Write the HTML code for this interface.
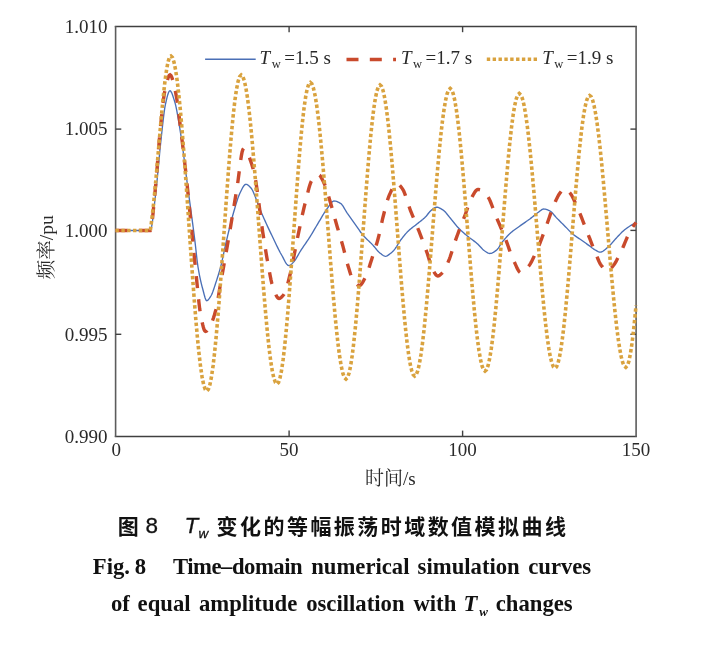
<!DOCTYPE html>
<html><head><meta charset="utf-8"><title>Fig. 8</title>
<style>html,body{margin:0;padding:0;background:#fff;}svg{display:block;}</style>
</head><body>
<svg width="705" height="647" viewBox="0 0 705 647">
<rect width="705" height="647" fill="#fff"/>
<line x1="114.8" y1="26.6" x2="636.9" y2="26.6" stroke="#404040" stroke-width="1.5"/>
<line x1="114.8" y1="436.4" x2="636.9" y2="436.4" stroke="#404040" stroke-width="1.5"/>
<line x1="115.6" y1="26" x2="115.6" y2="437" stroke="#5c5c5c" stroke-width="1.6"/>
<line x1="636.1" y1="26" x2="636.1" y2="437" stroke="#5c5c5c" stroke-width="1.6"/>
<line x1="115.6" y1="129.1" x2="121.3" y2="129.1" stroke="#404040" stroke-width="1.4"/>
<line x1="636.1" y1="129.1" x2="630.4" y2="129.1" stroke="#404040" stroke-width="1.4"/>
<line x1="115.6" y1="230.4" x2="121.3" y2="230.4" stroke="#404040" stroke-width="1.4"/>
<line x1="636.1" y1="230.4" x2="630.4" y2="230.4" stroke="#404040" stroke-width="1.4"/>
<line x1="115.6" y1="334.3" x2="121.3" y2="334.3" stroke="#404040" stroke-width="1.4"/>
<line x1="636.1" y1="334.3" x2="630.4" y2="334.3" stroke="#404040" stroke-width="1.4"/>
<line x1="289.1" y1="436.4" x2="289.1" y2="430.6" stroke="#404040" stroke-width="1.4"/>
<line x1="289.1" y1="26.6" x2="289.1" y2="32.2" stroke="#404040" stroke-width="1.4"/>
<line x1="462.6" y1="436.4" x2="462.6" y2="430.6" stroke="#404040" stroke-width="1.4"/>
<line x1="462.6" y1="26.6" x2="462.6" y2="32.2" stroke="#404040" stroke-width="1.4"/>
<path d="M115.50,230.50 L116.21,230.50 L116.92,230.50 L117.63,230.50 L118.34,230.50 L119.05,230.50 L119.76,230.50 L120.47,230.50 L121.18,230.50 L121.89,230.50 L122.60,230.50 L123.31,230.50 L124.02,230.50 L124.73,230.50 L125.44,230.50 L126.15,230.50 L126.86,230.50 L127.57,230.50 L128.28,230.50 L128.99,230.50 L129.70,230.50 L130.41,230.50 L131.12,230.50 L131.83,230.50 L132.54,230.50 L133.26,230.50 L133.97,230.50 L134.68,230.50 L135.39,230.50 L136.10,230.50 L136.81,230.50 L137.52,230.50 L138.23,230.50 L138.94,230.50 L139.65,230.50 L140.36,230.50 L141.07,230.50 L141.78,230.50 L142.49,230.50 L143.20,230.50 L143.91,230.50 L144.62,230.50 L145.33,230.50 L146.04,230.50 L146.75,230.50 L147.46,230.50 L148.17,230.50 L148.88,230.50 L149.59,230.50 L150.30,230.50 L151.01,229.34 L151.73,226.19 L152.44,221.50 L153.16,215.77 L153.87,209.46 L154.59,203.04 L155.30,197.00 L156.04,190.67 L156.78,183.59 L157.51,175.99 L158.25,168.09 L158.99,160.12 L159.72,152.29 L160.46,144.85 L161.20,138.00 L161.92,131.55 L162.63,124.99 L163.35,118.64 L164.07,112.81 L164.78,107.83 L165.50,104.00 L166.23,100.78 L166.97,97.70 L167.70,94.94 L168.43,92.72 L169.17,91.24 L169.90,90.70 L170.67,91.13 L171.43,92.32 L172.20,94.07 L172.97,96.22 L173.73,98.59 L174.50,101.00 L175.26,103.68 L176.03,106.94 L176.79,110.69 L177.55,114.83 L178.31,119.27 L179.07,123.90 L179.84,128.65 L180.60,133.40 L181.31,137.98 L182.02,142.88 L182.73,148.04 L183.44,153.41 L184.15,158.93 L184.86,164.55 L185.57,170.20 L186.28,175.83 L186.99,181.38 L187.70,186.80 L188.41,192.10 L189.12,197.36 L189.83,202.58 L190.54,207.80 L191.25,213.03 L191.96,218.29 L192.67,223.61 L193.38,229.00 L194.09,234.49 L194.80,240.10 L195.60,246.98 L196.40,254.30 L197.20,261.25 L198.00,267.00 L198.80,271.65 L199.60,275.85 L200.40,279.67 L201.20,283.16 L202.00,286.35 L202.80,289.30 L203.58,292.26 L204.36,295.31 L205.14,298.02 L205.92,299.96 L206.70,300.70 L207.40,300.50 L208.10,299.97 L208.80,299.17 L209.50,298.19 L210.20,297.11 L210.90,296.00 L211.60,294.72 L212.30,293.11 L213.00,291.26 L213.70,289.23 L214.40,287.09 L215.10,284.92 L215.80,282.80 L216.62,280.35 L217.43,277.83 L218.25,275.22 L219.07,272.49 L219.88,269.63 L220.70,266.60 L221.50,263.35 L222.30,259.80 L223.10,256.07 L223.90,252.27 L224.70,248.54 L225.50,245.00 L226.21,241.98 L226.92,238.96 L227.62,235.95 L228.33,232.96 L229.04,230.01 L229.75,227.09 L230.46,224.22 L231.17,221.42 L231.88,218.68 L232.58,216.03 L233.29,213.46 L234.00,211.00 L234.75,208.44 L235.50,205.87 L236.25,203.36 L237.00,200.93 L237.75,198.64 L238.50,196.52 L239.25,194.63 L240.00,193.00 L240.74,191.51 L241.47,190.00 L242.21,188.54 L242.95,187.19 L243.69,186.03 L244.43,185.11 L245.16,184.51 L245.90,184.30 L246.63,184.41 L247.36,184.71 L248.09,185.18 L248.81,185.77 L249.54,186.46 L250.27,187.22 L251.00,188.00 L251.73,188.97 L252.46,190.25 L253.19,191.78 L253.91,193.48 L254.64,195.28 L255.37,197.11 L256.10,198.90 L256.95,201.07 L257.80,203.41 L258.65,205.77 L259.50,208.00 L260.22,209.78 L260.94,211.52 L261.67,213.23 L262.39,214.91 L263.11,216.56 L263.83,218.19 L264.56,219.80 L265.28,221.40 L266.00,223.00 L266.71,224.56 L267.42,226.10 L268.13,227.62 L268.84,229.14 L269.55,230.63 L270.26,232.12 L270.97,233.60 L271.68,235.07 L272.39,236.54 L273.10,238.00 L273.81,239.47 L274.52,240.95 L275.23,242.45 L275.93,243.94 L276.64,245.43 L277.35,246.90 L278.06,248.36 L278.77,249.78 L279.48,251.16 L280.18,252.50 L280.89,253.78 L281.60,255.00 L282.33,256.29 L283.06,257.67 L283.79,259.09 L284.52,260.49 L285.25,261.83 L285.98,263.04 L286.71,264.08 L287.44,264.89 L288.17,265.41 L288.90,265.60 L289.63,265.47 L290.36,265.10 L291.09,264.55 L291.81,263.87 L292.54,263.10 L293.27,262.29 L294.00,261.50 L294.73,260.63 L295.47,259.60 L296.20,258.45 L296.93,257.21 L297.67,255.90 L298.40,254.58 L299.13,253.26 L299.87,251.99 L300.60,250.80 L301.32,249.69 L302.05,248.59 L302.77,247.52 L303.49,246.45 L304.22,245.40 L304.94,244.35 L305.66,243.30 L306.38,242.25 L307.11,241.19 L307.83,240.12 L308.55,239.03 L309.28,237.93 L310.00,236.80 L310.72,235.66 L311.43,234.49 L312.15,233.31 L312.86,232.11 L313.58,230.90 L314.29,229.68 L315.01,228.46 L315.72,227.23 L316.44,226.01 L317.15,224.79 L317.87,223.58 L318.58,222.38 L319.30,221.20 L320.01,220.03 L320.72,218.83 L321.43,217.62 L322.14,216.42 L322.85,215.21 L323.55,214.03 L324.26,212.87 L324.97,211.75 L325.68,210.68 L326.39,209.66 L327.10,208.70 L327.80,207.75 L328.50,206.73 L329.20,205.70 L329.90,204.68 L330.60,203.71 L331.30,202.84 L332.00,202.09 L332.70,201.51 L333.40,201.13 L334.10,201.00 L334.89,201.05 L335.68,201.19 L336.46,201.41 L337.25,201.70 L338.04,202.04 L338.82,202.43 L339.61,202.85 L340.40,203.30 L341.10,203.82 L341.80,204.55 L342.50,205.45 L343.20,206.48 L343.90,207.61 L344.60,208.80 L345.30,210.01 L346.00,211.21 L346.70,212.35 L347.40,213.40 L348.11,214.40 L348.82,215.40 L349.53,216.40 L350.24,217.39 L350.95,218.38 L351.65,219.37 L352.36,220.35 L353.07,221.34 L353.78,222.32 L354.49,223.31 L355.20,224.30 L355.91,225.30 L356.62,226.33 L357.33,227.37 L358.04,228.41 L358.75,229.45 L359.45,230.48 L360.16,231.50 L360.87,232.48 L361.58,233.43 L362.29,234.34 L363.00,235.20 L363.72,236.03 L364.45,236.81 L365.17,237.57 L365.89,238.30 L366.62,239.01 L367.34,239.70 L368.06,240.38 L368.78,241.06 L369.51,241.74 L370.23,242.43 L370.95,243.13 L371.68,243.85 L372.40,244.60 L373.11,245.37 L373.82,246.19 L374.53,247.04 L375.24,247.90 L375.95,248.77 L376.65,249.63 L377.36,250.45 L378.07,251.24 L378.78,251.97 L379.49,252.63 L380.20,253.20 L380.97,253.79 L381.74,254.40 L382.51,254.98 L383.29,255.50 L384.06,255.92 L384.83,256.20 L385.60,256.30 L386.33,256.19 L387.07,255.88 L387.80,255.44 L388.53,254.91 L389.27,254.35 L390.00,253.80 L390.73,253.24 L391.47,252.62 L392.20,251.94 L392.93,251.21 L393.67,250.43 L394.40,249.60 L395.17,248.62 L395.95,247.51 L396.73,246.31 L397.50,245.04 L398.27,243.76 L399.05,242.50 L399.83,241.30 L400.60,240.20 L401.31,239.25 L402.02,238.32 L402.73,237.40 L403.44,236.50 L404.15,235.61 L404.85,234.75 L405.56,233.92 L406.27,233.12 L406.98,232.34 L407.69,231.60 L408.40,230.90 L409.11,230.24 L409.82,229.61 L410.53,229.01 L411.24,228.44 L411.95,227.88 L412.65,227.34 L413.36,226.80 L414.07,226.26 L414.78,225.72 L415.49,225.17 L416.20,224.60 L416.92,224.02 L417.65,223.44 L418.37,222.87 L419.09,222.31 L419.82,221.75 L420.54,221.18 L421.26,220.61 L421.98,220.02 L422.71,219.42 L423.43,218.80 L424.15,218.16 L424.88,217.50 L425.60,216.80 L426.37,215.97 L427.14,215.03 L427.91,214.03 L428.69,213.02 L429.46,212.06 L430.23,211.21 L431.00,210.50 L431.79,209.86 L432.57,209.21 L433.36,208.59 L434.14,208.04 L434.93,207.60 L435.71,207.31 L436.50,207.20 L437.27,207.26 L438.05,207.43 L438.82,207.70 L439.60,208.04 L440.38,208.43 L441.15,208.87 L441.93,209.33 L442.70,209.80 L443.41,210.28 L444.12,210.87 L444.83,211.56 L445.54,212.31 L446.25,213.13 L446.95,214.00 L447.66,214.88 L448.37,215.79 L449.08,216.68 L449.79,217.56 L450.50,218.40 L451.21,219.23 L451.92,220.09 L452.63,220.97 L453.34,221.87 L454.05,222.76 L454.75,223.66 L455.46,224.54 L456.17,225.40 L456.88,226.24 L457.59,227.04 L458.30,227.80 L459.02,228.54 L459.75,229.26 L460.47,229.96 L461.19,230.65 L461.92,231.32 L462.64,231.97 L463.36,232.62 L464.08,233.25 L464.81,233.87 L465.53,234.49 L466.25,235.10 L466.98,235.70 L467.70,236.30 L468.42,236.88 L469.13,237.44 L469.85,237.98 L470.56,238.51 L471.28,239.04 L471.99,239.55 L472.71,240.07 L473.42,240.59 L474.14,241.12 L474.85,241.66 L475.57,242.22 L476.28,242.80 L477.00,243.40 L477.71,244.04 L478.42,244.74 L479.13,245.48 L479.84,246.25 L480.55,247.02 L481.25,247.79 L481.96,248.54 L482.67,249.25 L483.38,249.91 L484.09,250.49 L484.80,251.00 L485.51,251.48 L486.23,251.97 L486.94,252.44 L487.66,252.85 L488.37,253.19 L489.09,253.42 L489.80,253.50 L490.51,253.44 L491.22,253.28 L491.93,253.04 L492.64,252.71 L493.36,252.32 L494.07,251.88 L494.78,251.41 L495.49,250.91 L496.20,250.40 L496.90,249.79 L497.60,249.00 L498.30,248.07 L499.00,247.04 L499.70,245.95 L500.40,244.84 L501.10,243.75 L501.80,242.72 L502.50,241.80 L503.21,240.93 L503.92,240.08 L504.63,239.23 L505.34,238.40 L506.05,237.58 L506.75,236.79 L507.46,236.01 L508.17,235.27 L508.88,234.55 L509.59,233.86 L510.30,233.20 L511.02,232.57 L511.73,231.97 L512.45,231.39 L513.16,230.83 L513.88,230.29 L514.59,229.76 L515.31,229.25 L516.02,228.74 L516.74,228.23 L517.45,227.73 L518.17,227.23 L518.88,226.72 L519.60,226.20 L520.33,225.67 L521.07,225.14 L521.80,224.62 L522.53,224.11 L523.27,223.60 L524.00,223.09 L524.73,222.58 L525.47,222.07 L526.20,221.56 L526.93,221.05 L527.67,220.54 L528.40,220.01 L529.13,219.48 L529.87,218.95 L530.60,218.40 L531.31,217.85 L532.02,217.29 L532.73,216.71 L533.44,216.11 L534.15,215.52 L534.85,214.93 L535.56,214.34 L536.27,213.77 L536.98,213.22 L537.69,212.69 L538.40,212.20 L539.17,211.64 L539.94,211.04 L540.71,210.43 L541.49,209.88 L542.26,209.42 L543.03,209.11 L543.80,209.00 L544.59,209.05 L545.37,209.18 L546.16,209.38 L546.94,209.63 L547.73,209.93 L548.51,210.26 L549.30,210.60 L550.01,210.98 L550.72,211.48 L551.43,212.09 L552.14,212.79 L552.85,213.55 L553.55,214.36 L554.26,215.19 L554.97,216.04 L555.68,216.86 L556.39,217.66 L557.10,218.40 L557.81,219.11 L558.52,219.82 L559.23,220.53 L559.94,221.24 L560.65,221.95 L561.35,222.65 L562.06,223.36 L562.77,224.07 L563.48,224.78 L564.19,225.49 L564.90,226.20 L565.61,226.92 L566.32,227.65 L567.03,228.40 L567.74,229.15 L568.45,229.90 L569.15,230.64 L569.86,231.36 L570.57,232.07 L571.28,232.75 L571.99,233.39 L572.70,234.00 L573.42,234.58 L574.13,235.13 L574.85,235.66 L575.56,236.17 L576.28,236.66 L576.99,237.15 L577.71,237.62 L578.42,238.09 L579.14,238.56 L579.85,239.04 L580.57,239.51 L581.28,240.00 L582.00,240.50 L582.71,241.01 L583.42,241.52 L584.13,242.03 L584.84,242.54 L585.56,243.05 L586.27,243.57 L586.98,244.08 L587.69,244.59 L588.40,245.10 L589.17,245.66 L589.93,246.24 L590.70,246.83 L591.47,247.42 L592.23,248.00 L593.00,248.56 L593.77,249.08 L594.53,249.57 L595.30,250.00 L596.00,250.39 L596.70,250.79 L597.40,251.19 L598.10,251.54 L598.80,251.83 L599.50,252.03 L600.20,252.10 L600.97,252.02 L601.74,251.79 L602.51,251.43 L603.28,250.97 L604.05,250.42 L604.82,249.81 L605.59,249.16 L606.36,248.50 L607.13,247.84 L607.90,247.20 L608.65,246.56 L609.41,245.84 L610.16,245.07 L610.92,244.24 L611.67,243.39 L612.43,242.51 L613.18,241.62 L613.94,240.73 L614.69,239.86 L615.45,239.01 L616.20,238.20 L616.96,237.40 L617.73,236.59 L618.49,235.77 L619.25,234.96 L620.02,234.15 L620.78,233.36 L621.55,232.59 L622.31,231.84 L623.07,231.12 L623.84,230.44 L624.60,229.80 L625.31,229.24 L626.02,228.70 L626.74,228.18 L627.45,227.67 L628.16,227.19 L628.88,226.71 L629.59,226.25 L630.30,225.80 L631.01,225.35 L631.73,224.91 L632.44,224.47 L633.15,224.02 L633.86,223.58 L634.58,223.13 L635.29,222.67 L636.00,222.20" fill="none" stroke="#4A6FB6" stroke-width="1.35" stroke-linejoin="round"/>
<path d="M115.50,230.50 L116.21,230.50 L116.92,230.50 L117.63,230.50 L118.34,230.50 L119.05,230.50 L119.76,230.50 L120.47,230.50 L121.18,230.50 L121.89,230.50 L122.60,230.50 L123.31,230.50 L124.02,230.50 L124.73,230.50 L125.44,230.50 L126.15,230.50 L126.86,230.50 L127.57,230.50 L128.28,230.50 L128.99,230.50 L129.70,230.50 L130.41,230.50 L131.12,230.50 L131.83,230.50 L132.54,230.50 L133.26,230.50 L133.97,230.50 L134.68,230.50 L135.39,230.50 L136.10,230.50 L136.81,230.50 L137.52,230.50 L138.23,230.50 L138.94,230.50 L139.65,230.50 L140.36,230.50 L141.07,230.50 L141.78,230.50 L142.49,230.50 L143.20,230.50 L143.91,230.50 L144.62,230.50 L145.33,230.50 L146.04,230.50 L146.75,230.50 L147.46,230.50 L148.17,230.50 L148.88,230.50 L149.59,230.50 L150.30,230.50 L151.12,228.60 L151.93,223.53 L152.75,216.21 L153.57,207.56 L154.38,198.52 L155.20,190.00 L155.96,182.00 L156.71,172.98 L157.47,163.37 L158.23,153.56 L158.99,143.96 L159.74,134.97 L160.50,127.00 L161.25,119.68 L162.00,112.43 L162.75,105.54 L163.50,99.31 L164.25,94.03 L165.00,90.00 L165.73,86.79 L166.46,83.70 L167.19,80.86 L167.91,78.42 L168.64,76.50 L169.37,75.25 L170.10,74.80 L170.87,75.34 L171.64,76.82 L172.41,79.08 L173.19,81.91 L173.96,85.13 L174.73,88.55 L175.50,92.00 L176.26,95.82 L177.03,100.46 L177.79,105.76 L178.55,111.56 L179.31,117.69 L180.07,124.00 L180.84,130.32 L181.60,136.50 L182.30,142.13 L183.00,147.91 L183.70,153.83 L184.40,159.89 L185.10,166.07 L185.80,172.38 L186.50,178.80 L187.20,185.41 L187.90,192.24 L188.60,199.23 L189.30,206.33 L190.00,213.46 L190.70,220.57 L191.40,227.60 L192.10,234.61 L192.80,241.67 L193.50,248.74 L194.20,255.79 L194.90,262.76 L195.60,269.61 L196.30,276.30 L197.14,284.60 L197.98,293.21 L198.82,301.44 L199.66,308.60 L200.50,314.00 L201.21,317.65 L201.93,321.19 L202.64,324.46 L203.36,327.29 L204.07,329.52 L204.79,330.98 L205.50,331.50 L206.21,331.30 L206.93,330.73 L207.64,329.87 L208.36,328.80 L209.07,327.58 L209.79,326.29 L210.50,325.00 L211.26,323.53 L212.01,321.82 L212.77,319.87 L213.53,317.71 L214.29,315.33 L215.04,312.76 L215.80,310.00 L216.62,306.48 L217.43,302.24 L218.25,297.51 L219.07,292.54 L219.88,287.55 L220.70,282.80 L221.44,278.70 L222.17,274.61 L222.91,270.52 L223.65,266.43 L224.38,262.34 L225.12,258.23 L225.85,254.10 L226.59,249.95 L227.33,245.77 L228.06,241.56 L228.80,237.30 L229.54,232.99 L230.27,228.63 L231.01,224.22 L231.75,219.79 L232.48,215.32 L233.22,210.84 L233.95,206.36 L234.69,201.87 L235.43,197.39 L236.16,192.93 L236.90,188.50 L237.64,183.60 L238.39,178.05 L239.13,172.18 L239.88,166.31 L240.62,160.77 L241.37,155.89 L242.11,152.00 L242.86,149.43 L243.60,148.50 L244.34,148.68 L245.08,149.19 L245.82,150.01 L246.55,151.11 L247.29,152.46 L248.03,154.04 L248.77,155.81 L249.51,157.75 L250.25,159.83 L250.98,162.02 L251.72,164.30 L252.46,166.64 L253.20,169.00 L253.94,171.72 L254.67,175.11 L255.41,179.08 L256.14,183.55 L256.88,188.44 L257.61,193.65 L258.35,199.10 L259.09,204.72 L259.82,210.41 L260.56,216.09 L261.29,221.67 L262.03,227.07 L262.76,232.21 L263.50,237.00 L264.25,241.68 L265.00,246.35 L265.75,250.96 L266.50,255.45 L267.25,259.78 L268.00,263.90 L268.77,268.07 L269.53,272.29 L270.30,276.38 L271.07,280.15 L271.83,283.42 L272.60,286.00 L273.31,288.03 L274.02,290.02 L274.73,291.94 L275.44,293.71 L276.16,295.28 L276.87,296.61 L277.58,297.62 L278.29,298.27 L279.00,298.50 L279.80,298.35 L280.60,297.92 L281.40,297.27 L282.20,296.45 L283.00,295.51 L283.80,294.50 L284.51,293.35 L285.22,291.76 L285.93,289.80 L286.64,287.54 L287.36,285.04 L288.07,282.37 L288.78,279.60 L289.49,276.78 L290.20,274.00 L290.93,271.02 L291.66,267.75 L292.39,264.25 L293.12,260.58 L293.85,256.79 L294.58,252.94 L295.31,249.08 L296.04,245.27 L296.77,241.55 L297.50,238.00 L298.21,234.62 L298.92,231.22 L299.63,227.81 L300.34,224.42 L301.05,221.05 L301.75,217.73 L302.46,214.48 L303.17,211.31 L303.88,208.25 L304.59,205.31 L305.30,202.50 L306.04,199.57 L306.79,196.55 L307.53,193.53 L308.28,190.59 L309.02,187.82 L309.77,185.29 L310.51,183.09 L311.26,181.30 L312.00,180.00 L312.70,179.05 L313.40,178.14 L314.10,177.29 L314.80,176.52 L315.50,175.84 L316.20,175.28 L316.90,174.86 L317.60,174.59 L318.30,174.50 L319.01,174.71 L319.73,175.30 L320.44,176.19 L321.15,177.33 L321.86,178.65 L322.57,180.08 L323.29,181.55 L324.00,183.00 L324.77,184.70 L325.55,186.70 L326.32,188.94 L327.10,191.35 L327.88,193.89 L328.65,196.50 L329.43,199.12 L330.20,201.70 L330.90,204.05 L331.60,206.48 L332.30,208.99 L333.00,211.54 L333.70,214.12 L334.40,216.71 L335.10,219.28 L335.80,221.82 L336.50,224.30 L337.27,226.97 L338.05,229.59 L338.82,232.18 L339.60,234.76 L340.38,237.35 L341.15,239.98 L341.93,242.65 L342.70,245.40 L343.49,248.33 L344.27,251.41 L345.06,254.57 L345.84,257.72 L346.63,260.79 L347.41,263.71 L348.20,266.40 L349.00,269.06 L349.80,271.76 L350.60,274.34 L351.40,276.67 L352.20,278.61 L353.00,280.00 L353.72,280.95 L354.44,281.86 L355.17,282.72 L355.89,283.49 L356.61,284.16 L357.33,284.72 L358.06,285.14 L358.78,285.41 L359.50,285.50 L360.29,285.26 L361.07,284.59 L361.86,283.59 L362.64,282.34 L363.43,280.94 L364.21,279.46 L365.00,278.00 L365.74,276.53 L366.48,274.83 L367.22,272.94 L367.96,270.88 L368.70,268.69 L369.44,266.41 L370.18,264.08 L370.92,261.72 L371.66,259.39 L372.40,257.10 L373.17,254.75 L373.95,252.38 L374.73,249.98 L375.50,247.53 L376.27,245.01 L377.05,242.39 L377.83,239.66 L378.60,236.80 L379.38,233.62 L380.17,230.12 L380.95,226.46 L381.73,222.78 L382.52,219.24 L383.30,216.00 L384.07,212.96 L384.85,209.90 L385.62,206.90 L386.40,204.00 L387.18,201.27 L387.95,198.77 L388.73,196.56 L389.50,194.70 L390.23,193.12 L390.96,191.53 L391.69,189.98 L392.42,188.50 L393.15,187.14 L393.88,185.94 L394.61,184.93 L395.34,184.16 L396.07,183.67 L396.80,183.50 L397.59,183.65 L398.37,184.08 L399.16,184.74 L399.94,185.57 L400.73,186.52 L401.51,187.55 L402.30,188.60 L403.05,189.79 L403.81,191.31 L404.56,193.11 L405.32,195.12 L406.07,197.31 L406.83,199.60 L407.58,201.95 L408.34,204.30 L409.09,206.59 L409.85,208.78 L410.60,210.80 L411.36,212.72 L412.13,214.60 L412.89,216.45 L413.65,218.28 L414.42,220.09 L415.18,221.90 L415.95,223.71 L416.71,225.54 L417.47,227.39 L418.24,229.28 L419.00,231.20 L419.75,233.13 L420.51,235.07 L421.26,237.03 L422.02,239.00 L422.77,240.99 L423.53,243.01 L424.28,245.05 L425.04,247.11 L425.79,249.21 L426.55,251.34 L427.30,253.50 L428.08,255.94 L428.87,258.60 L429.65,261.31 L430.43,263.90 L431.22,266.19 L432.00,268.00 L432.73,269.42 L433.45,270.83 L434.18,272.17 L434.90,273.40 L435.62,274.45 L436.35,275.28 L437.07,275.81 L437.80,276.00 L438.54,275.88 L439.29,275.54 L440.03,275.03 L440.77,274.38 L441.51,273.63 L442.26,272.82 L443.00,272.00 L443.70,271.11 L444.40,270.02 L445.10,268.74 L445.80,267.33 L446.50,265.80 L447.20,264.20 L447.90,262.56 L448.60,260.90 L449.35,259.03 L450.10,256.99 L450.85,254.80 L451.60,252.52 L452.35,250.16 L453.10,247.77 L453.85,245.38 L454.60,243.03 L455.35,240.76 L456.10,238.60 L456.81,236.65 L457.52,234.73 L458.22,232.84 L458.93,230.98 L459.64,229.14 L460.35,227.32 L461.05,225.51 L461.76,223.70 L462.47,221.88 L463.18,220.06 L463.88,218.23 L464.59,216.38 L465.30,214.50 L466.01,212.52 L466.73,210.43 L467.44,208.28 L468.15,206.15 L468.86,204.09 L469.57,202.18 L470.29,200.46 L471.00,199.00 L471.70,197.70 L472.40,196.37 L473.10,195.06 L473.80,193.81 L474.50,192.65 L475.20,191.61 L475.90,190.74 L476.60,190.08 L477.30,189.65 L478.00,189.50 L478.71,189.54 L479.43,189.66 L480.14,189.84 L480.86,190.08 L481.57,190.36 L482.29,190.67 L483.00,191.00 L483.71,191.44 L484.43,192.05 L485.14,192.81 L485.86,193.70 L486.57,194.67 L487.29,195.72 L488.00,196.80 L488.72,198.01 L489.44,199.43 L490.15,201.02 L490.87,202.75 L491.59,204.59 L492.31,206.50 L493.03,208.45 L493.75,210.41 L494.46,212.34 L495.18,214.22 L495.90,216.00 L496.60,217.67 L497.30,219.33 L498.00,220.97 L498.70,222.61 L499.40,224.24 L500.10,225.87 L500.80,227.50 L501.50,229.15 L502.20,230.80 L502.90,232.47 L503.60,234.15 L504.30,235.86 L505.00,237.60 L505.75,239.53 L506.50,241.55 L507.25,243.64 L508.00,245.78 L508.75,247.93 L509.50,250.07 L510.25,252.18 L511.00,254.24 L511.75,256.21 L512.50,258.08 L513.25,259.82 L514.00,261.40 L514.70,262.85 L515.40,264.37 L516.10,265.92 L516.80,267.42 L517.50,268.85 L518.20,270.13 L518.90,271.22 L519.60,272.06 L520.30,272.61 L521.00,272.80 L521.70,272.71 L522.40,272.45 L523.10,272.05 L523.80,271.52 L524.50,270.89 L525.20,270.18 L525.90,269.42 L526.60,268.62 L527.30,267.81 L528.00,267.00 L528.71,266.13 L529.41,265.15 L530.12,264.06 L530.83,262.86 L531.54,261.58 L532.24,260.22 L532.95,258.80 L533.66,257.32 L534.36,255.80 L535.07,254.24 L535.78,252.66 L536.49,251.07 L537.19,249.48 L537.90,247.90 L538.62,246.26 L539.34,244.54 L540.05,242.76 L540.77,240.92 L541.49,239.04 L542.21,237.12 L542.93,235.18 L543.65,233.23 L544.36,231.27 L545.08,229.33 L545.80,227.40 L546.50,225.50 L547.20,223.54 L547.90,221.54 L548.60,219.50 L549.30,217.46 L550.00,215.42 L550.70,213.39 L551.40,211.40 L552.10,209.46 L552.80,207.58 L553.50,205.78 L554.20,204.09 L554.90,202.50 L555.63,200.92 L556.36,199.38 L557.09,197.90 L557.81,196.50 L558.54,195.20 L559.27,194.02 L560.00,193.00 L560.75,191.99 L561.50,190.97 L562.25,190.02 L563.00,189.24 L563.75,188.70 L564.50,188.50 L565.29,188.64 L566.07,189.03 L566.86,189.62 L567.64,190.36 L568.43,191.20 L569.21,192.10 L570.00,193.00 L570.76,193.97 L571.52,195.14 L572.28,196.47 L573.04,197.95 L573.80,199.53 L574.56,201.20 L575.32,202.92 L576.08,204.66 L576.84,206.40 L577.60,208.10 L578.30,209.67 L579.00,211.30 L579.70,212.97 L580.40,214.69 L581.10,216.43 L581.80,218.21 L582.50,220.00 L583.20,221.81 L583.90,223.62 L584.60,225.44 L585.30,227.24 L586.00,229.03 L586.70,230.80 L587.45,232.69 L588.20,234.61 L588.95,236.54 L589.70,238.48 L590.45,240.43 L591.20,242.36 L591.95,244.29 L592.70,246.20 L593.45,248.08 L594.20,249.93 L594.95,251.74 L595.70,253.50 L596.46,255.30 L597.21,257.16 L597.97,259.01 L598.73,260.79 L599.49,262.42 L600.24,263.85 L601.00,265.00 L601.72,265.96 L602.44,266.90 L603.17,267.82 L603.89,268.67 L604.61,269.43 L605.33,270.08 L606.06,270.57 L606.78,270.89 L607.50,271.00 L608.29,270.84 L609.07,270.39 L609.86,269.72 L610.64,268.88 L611.43,267.94 L612.21,266.96 L613.00,266.00 L613.74,265.06 L614.47,264.00 L615.21,262.82 L615.95,261.55 L616.68,260.21 L617.42,258.80 L618.15,257.35 L618.89,255.87 L619.63,254.37 L620.36,252.88 L621.10,251.40 L621.85,249.86 L622.59,248.23 L623.34,246.52 L624.08,244.75 L624.83,242.95 L625.58,241.14 L626.32,239.33 L627.07,237.55 L627.82,235.82 L628.56,234.16 L629.31,232.59 L630.05,231.13 L630.80,229.80 L631.54,228.60 L632.29,227.50 L633.03,226.47 L633.77,225.48 L634.51,224.50 L635.26,223.52 L636.00,222.50" fill="none" stroke="#C94A2C" stroke-width="3.4" stroke-dasharray="12 11.3"/>
<path d="M115.50,230.50 L150.30,230.50 L151.16,224.42 L152.02,217.63 L152.88,210.16 L153.73,202.07 L154.59,193.44 L155.45,184.33 L156.31,174.84 L157.17,165.06 L158.03,155.10 L158.88,145.05 L159.74,135.04 L160.60,125.18 L161.46,115.58 L162.32,106.36 L163.18,97.63 L164.03,89.50 L164.89,82.07 L165.75,75.42 L166.61,69.65 L167.47,64.82 L168.33,61.00 L169.18,58.23 L170.04,56.56 L170.90,56.00 L172.46,57.56 L174.02,62.21 L175.58,69.87 L177.14,80.38 L178.70,93.57 L180.27,109.17 L181.83,126.91 L183.39,146.44 L184.95,167.41 L186.51,189.42 L188.07,212.07 L189.63,234.93 L191.19,257.58 L192.75,279.59 L194.31,300.56 L195.87,320.09 L197.43,337.83 L199.00,353.43 L200.56,366.62 L202.12,377.13 L203.68,384.79 L205.24,389.44 L206.80,391.00 L208.36,389.39 L209.93,384.60 L211.49,376.72 L213.05,365.92 L214.62,352.41 L216.18,336.47 L217.75,318.42 L219.31,298.64 L220.87,277.51 L222.44,255.49 L224.00,233.00 L225.56,210.51 L227.13,188.49 L228.69,167.36 L230.25,147.58 L231.82,129.53 L233.38,113.59 L234.95,100.08 L236.51,89.28 L238.07,81.40 L239.64,76.61 L241.20,75.00 L242.76,76.44 L244.31,80.73 L245.87,87.79 L247.43,97.49 L248.98,109.65 L250.54,124.05 L252.10,140.40 L253.65,158.42 L255.21,177.76 L256.77,198.07 L258.32,218.96 L259.88,240.04 L261.43,260.93 L262.99,281.24 L264.55,300.58 L266.10,318.60 L267.66,334.95 L269.22,349.35 L270.77,361.51 L272.33,371.21 L273.89,378.27 L275.44,382.56 L277.00,384.00 L278.51,382.47 L280.03,377.89 L281.54,370.38 L283.05,360.07 L284.57,347.18 L286.08,331.97 L287.60,314.75 L289.11,295.87 L290.62,275.72 L292.14,254.70 L293.65,233.25 L295.16,211.80 L296.68,190.78 L298.19,170.63 L299.70,151.75 L301.22,134.53 L302.73,119.32 L304.25,106.43 L305.76,96.12 L307.27,88.61 L308.79,84.03 L310.30,82.50 L311.85,83.88 L313.40,88.00 L314.96,94.77 L316.51,104.08 L318.06,115.75 L319.61,129.56 L321.17,145.26 L322.72,162.55 L324.27,181.10 L325.82,200.59 L327.37,220.63 L328.93,240.87 L330.48,260.91 L332.03,280.40 L333.58,298.95 L335.13,316.24 L336.69,331.94 L338.24,345.75 L339.79,357.42 L341.34,366.73 L342.90,373.50 L344.45,377.62 L346.00,379.00 L347.55,377.50 L349.09,373.05 L350.64,365.72 L352.18,355.66 L353.73,343.10 L355.27,328.26 L356.82,311.47 L358.36,293.07 L359.91,273.41 L361.45,252.92 L363.00,232.00 L364.55,211.08 L366.09,190.59 L367.64,170.93 L369.18,152.53 L370.73,135.74 L372.27,120.90 L373.82,108.34 L375.36,98.28 L376.91,90.95 L378.45,86.50 L380.00,85.00 L381.51,86.36 L383.02,90.40 L384.53,97.05 L386.03,106.18 L387.54,117.63 L389.05,131.19 L390.56,146.59 L392.07,163.56 L393.58,181.78 L395.09,200.90 L396.60,220.57 L398.10,240.43 L399.61,260.10 L401.12,279.22 L402.63,297.44 L404.14,314.41 L405.65,329.81 L407.16,343.37 L408.67,354.82 L410.17,363.95 L411.68,370.60 L413.19,374.64 L414.70,376.00 L416.24,374.66 L417.79,370.67 L419.33,364.10 L420.87,355.07 L422.42,343.76 L423.96,330.37 L425.50,315.15 L427.05,298.38 L428.59,280.39 L430.13,261.50 L431.68,242.06 L433.22,222.44 L434.77,203.00 L436.31,184.11 L437.85,166.12 L439.40,149.35 L440.94,134.13 L442.48,120.74 L444.03,109.43 L445.57,100.40 L447.11,93.83 L448.66,89.84 L450.20,88.50 L451.71,89.82 L453.23,93.74 L454.74,100.19 L456.25,109.06 L457.77,120.18 L459.28,133.34 L460.79,148.29 L462.30,164.77 L463.82,182.45 L465.33,201.01 L466.84,220.11 L468.36,239.39 L469.87,258.49 L471.38,277.05 L472.90,294.73 L474.41,311.21 L475.92,326.16 L477.43,339.32 L478.95,350.44 L480.46,359.31 L481.97,365.76 L483.49,369.68 L485.00,371.00 L486.56,369.59 L488.12,365.38 L489.68,358.46 L491.24,348.97 L492.80,337.11 L494.35,323.11 L495.91,307.26 L497.47,289.89 L499.03,271.34 L500.59,252.00 L502.15,232.25 L503.71,212.50 L505.27,193.16 L506.83,174.61 L508.39,157.24 L509.95,141.39 L511.50,127.39 L513.06,115.53 L514.62,106.04 L516.18,99.12 L517.74,94.91 L519.30,93.50 L520.85,94.78 L522.40,98.59 L523.96,104.87 L525.51,113.50 L527.06,124.31 L528.61,137.10 L530.17,151.64 L531.72,167.66 L533.27,184.85 L534.82,202.91 L536.37,221.48 L537.93,240.22 L539.48,258.79 L541.03,276.85 L542.58,294.04 L544.13,310.06 L545.69,324.60 L547.24,337.39 L548.79,348.20 L550.34,356.83 L551.90,363.11 L553.45,366.92 L555.00,368.20 L556.50,366.93 L558.01,363.14 L559.51,356.91 L561.02,348.35 L562.52,337.62 L564.03,324.92 L565.53,310.48 L567.03,294.58 L568.54,277.51 L570.04,259.59 L571.55,241.15 L573.05,222.55 L574.56,204.11 L576.06,186.19 L577.57,169.12 L579.07,153.22 L580.57,138.78 L582.08,126.08 L583.58,115.35 L585.09,106.79 L586.59,100.56 L588.10,96.77 L589.60,95.50 L591.11,96.66 L592.62,100.13 L594.12,105.84 L595.63,113.71 L597.14,123.58 L598.65,135.30 L600.16,148.67 L601.67,163.45 L603.17,179.39 L604.68,196.23 L606.19,213.66 L607.70,231.40 L609.21,249.14 L610.72,266.57 L612.23,283.41 L613.73,299.35 L615.24,314.13 L616.75,327.50 L618.26,339.22 L619.77,349.09 L621.27,356.96 L622.78,362.67 L624.29,366.14 L625.80,367.30 L627.33,365.79 L628.87,361.30 L630.40,353.92 L631.93,343.82 L633.47,331.22 L635.00,316.41 L636.00,305.53" fill="none" stroke="#D9A23E" stroke-width="3.6" stroke-dasharray="3.4 2.45"/>
<line x1="205.1" y1="59.2" x2="255.7" y2="59.2" stroke="#4A6FB6" stroke-width="1.5"/>
<line x1="346.5" y1="59.5" x2="396" y2="59.5" stroke="#C94A2C" stroke-width="3.4" stroke-dasharray="12 11.3"/>
<line x1="486.8" y1="59.2" x2="537.2" y2="59.2" stroke="#D9A23E" stroke-width="3.6" stroke-dasharray="3.4 2.45"/>
<text x="259.6" y="63.8" font-family="Liberation Serif, serif" font-size="19" fill="#2a2a2a"><tspan font-style="italic">T</tspan><tspan font-size="12.5" dy="4" dx="1.5">w</tspan><tspan dy="-4" dx="3.5">=1.5 s</tspan></text>
<text x="401.0" y="63.8" font-family="Liberation Serif, serif" font-size="19" fill="#2a2a2a"><tspan font-style="italic">T</tspan><tspan font-size="12.5" dy="4" dx="1.5">w</tspan><tspan dy="-4" dx="3.5">=1.7 s</tspan></text>
<text x="542.2" y="63.8" font-family="Liberation Serif, serif" font-size="19" fill="#2a2a2a"><tspan font-style="italic">T</tspan><tspan font-size="12.5" dy="4" dx="1.5">w</tspan><tspan dy="-4" dx="3.5">=1.9 s</tspan></text>
<text x="107.6" y="32.9" font-family="Liberation Serif, serif" font-size="19" fill="#2a2a2a" text-anchor="end">1.010</text>
<text x="107.6" y="135.4" font-family="Liberation Serif, serif" font-size="19" fill="#2a2a2a" text-anchor="end">1.005</text>
<text x="107.6" y="236.7" font-family="Liberation Serif, serif" font-size="19" fill="#2a2a2a" text-anchor="end">1.000</text>
<text x="107.6" y="340.6" font-family="Liberation Serif, serif" font-size="19" fill="#2a2a2a" text-anchor="end">0.995</text>
<text x="107.6" y="442.7" font-family="Liberation Serif, serif" font-size="19" fill="#2a2a2a" text-anchor="end">0.990</text>
<text x="116.2" y="455.5" font-family="Liberation Serif, serif" font-size="19" fill="#2a2a2a" text-anchor="middle">0</text>
<text x="289.1" y="455.5" font-family="Liberation Serif, serif" font-size="19" fill="#2a2a2a" text-anchor="middle">50</text>
<text x="462.6" y="455.5" font-family="Liberation Serif, serif" font-size="19" fill="#2a2a2a" text-anchor="middle">100</text>
<text x="636.1" y="455.5" font-family="Liberation Serif, serif" font-size="19" fill="#2a2a2a" text-anchor="middle">150</text>
<text x="390.3" y="484.5" font-family="Liberation Serif, Noto Serif CJK SC, serif" font-size="19" fill="#2a2a2a" text-anchor="middle">时间/s</text>
<text transform="translate(53,247.2) rotate(-90)" font-family="Liberation Serif, Noto Serif CJK SC, serif" font-size="19.5" fill="#2a2a2a" text-anchor="middle">频率/pu</text>
<text y="534" font-family="Liberation Sans, Noto Sans CJK SC, sans-serif" font-size="21" font-weight="bold" fill="#111"><tspan x="117.8">图</tspan><tspan x="216.6" letter-spacing="2.45">变化的等幅振荡时域数值模拟曲线</tspan></text>
<text y="532.6" font-family="Liberation Sans, sans-serif" font-size="22.5" fill="#111" stroke="#111" stroke-width="0.3"><tspan x="145.4">8</tspan><tspan x="184.6" font-style="italic">T</tspan><tspan x="198.6" font-style="italic" font-size="13.5" dy="5">w</tspan></text>
<text y="574.2" font-family="Liberation Serif, serif" font-size="22.7" font-weight="bold" fill="#111"><tspan x="92.8">Fig.</tspan><tspan x="134.8">8</tspan><tspan x="173.0" textLength="129.6" lengthAdjust="spacing">Time–domain</tspan><tspan x="311.2">numerical</tspan><tspan x="417.6">simulation</tspan><tspan x="528.2">curves</tspan></text>
<text y="610.6" font-family="Liberation Serif, serif" font-size="22.7" font-weight="bold" fill="#111"><tspan x="111.0">of</tspan><tspan x="137.6">equal</tspan><tspan x="198.9">amplitude</tspan><tspan x="306.2">oscillation</tspan><tspan x="413.4">with</tspan><tspan x="463.5" font-style="italic">T</tspan><tspan font-style="italic" font-size="13" dy="5" dx="2">w</tspan><tspan x="495.8" dy="-5">changes</tspan></text>
</svg>
</body></html>
